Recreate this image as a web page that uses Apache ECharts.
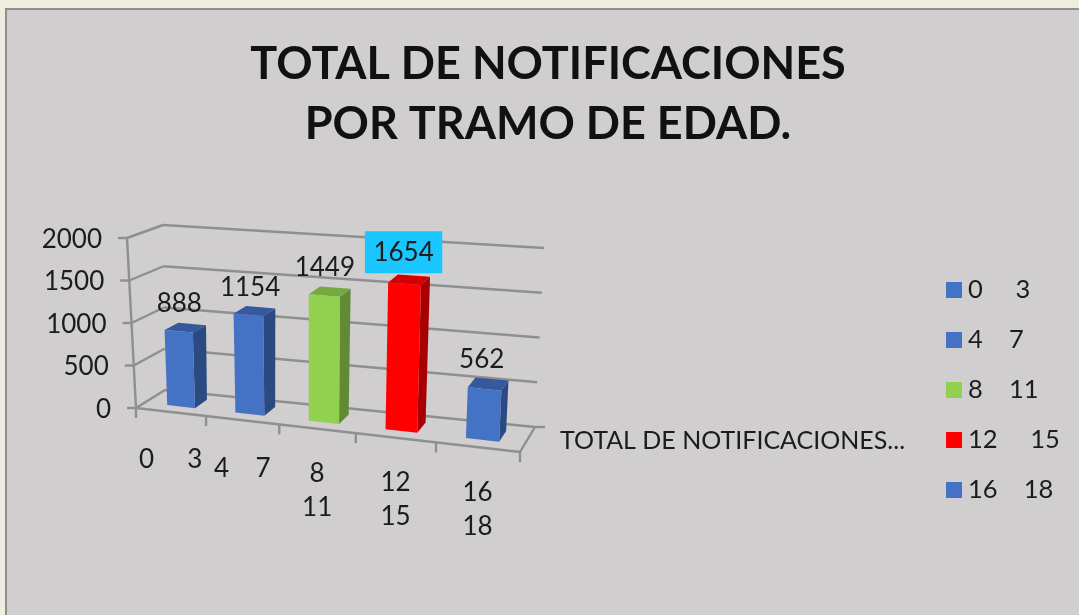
<!DOCTYPE html>
<html><head><meta charset="utf-8">
<style>html,body{margin:0;padding:0;background:#efede0;overflow:hidden}#c{width:1079px;height:615px;filter:blur(0.6px)}</style>
<script src="https://cdn.jsdelivr.net/npm/echarts@6/dist/echarts.min.js"></script>
</head><body><div id="c"></div>
<script>
const titleText = 'TOTAL DE NOTIFICACIONES\nPOR TRAMO DE EDAD.';
const categories = ['0     3', '4    7', '8\n11', '12\n15', '16\n18'];
const legendNames = ['0     3', '4    7', '8    11', '12     15', '16    18'];
const values = [888, 1154, 1449, 1654, 562];
const yTicks = [0, 500, 1000, 1500, 2000];
const seriesLabel = 'TOTAL DE NOTIFICACIONES...';
const faceColors = ['#4472c4', '#4472c4', '#92d050', '#ff0000', '#4472c4'];
const sideColors = ['#2b4a82', '#2b4a82', '#618a35', '#a80000', '#2b4a82'];
const topColors = ['#35599c', '#35599c', '#76a941', '#d20000', '#35599c'];
const highlighted = 3;

const FONT = 'Lato, Carlito, sans-serif';
const INK = '#1c1c1c', WALL = '#8f8f8f';
// corners of the projected plot box: [front, back] x [left, right] x [bottom, top]
const BOX = {
  fb: [[136, 408], [520, 452]], ft: [[127, 238], [529, 268]],
  bb: [[165, 390], [535, 427]], bt: [[163, 225], [544, 248]]
};
const R = 1.12, D1 = 0.3, D2 = 0.74, BAR = 0.4;
const mix = (a, b, k) => [a[0] + (b[0] - a[0]) * k, a[1] + (b[1] - a[1]) * k];

function projector(params, api) {
  const g = params.coordSys;
  return function (u, v, d) {
    const p = api.coord([u, v]);
    const s = (p[0] - g.x) / g.width, t = (g.y + g.height - p[1]) / g.height;
    const w = s / (s + R * (1 - s));
    const front = mix(mix(BOX.fb[0], BOX.fb[1], w), mix(BOX.ft[0], BOX.ft[1], w), t);
    const back = mix(mix(BOX.bb[0], BOX.bb[1], w), mix(BOX.bt[0], BOX.bt[1], w), t);
    return mix(front, back, d);
  };
}
const line = (a, b) => ({ type: 'line', shape: { x1: a[0], y1: a[1], x2: b[0], y2: b[1] }, style: { stroke: WALL, lineWidth: 2.4 } });
const poly = (pts, fill) => ({ type: 'polygon', shape: { points: pts }, style: { fill: fill } });
const text = (x, y, str, align, vAlign, extra) => ({ type: 'text', style: Object.assign({ x: x, y: y, text: str, align: align, verticalAlign: vAlign, fill: INK, font: '26px ' + FONT, lineHeight: 34 }, extra || {}) });

function renderFrame(params, api) {
  const P = projector(params, api), kids = [];
  yTicks.forEach(v => {
    const a = P(0, v, 0), b = P(0, v, 1), c = P(5, v, 1);
    kids.push(line(a, b), line(b, c), line(a, [a[0] - 9, a[1]]));
    kids.push(text(a[0] - 25, a[1] + 1.5, String(v), 'right', 'middle'));
  });
  kids.push(line(P(0, 0, 0), P(0, 2000, 0)));
  kids.push(line(P(0, 0, 0), P(5, 0, 0)));
  kids.push(line(P(5, 0, 0), P(5, 0, 1)));
  const corner = P(5, 0, 1);
  kids.push(line(corner, [corner[0] + 10, corner[1]]));
  kids.push(text(corner[0] + 25, corner[1] + 14, seriesLabel, 'left', 'middle', { font: '25px ' + FONT }));
  for (let i = 0; i <= 5; i++) {
    const a = P(i, 0, 0);
    kids.push(line(a, [a[0], a[1] + 10]));
  }
  categories.forEach((c, i) => {
    const a = P(i + 0.5, 0, 0);
    const two = c.indexOf('\n') >= 0;
    kids.push(text(a[0], a[1] + (two ? 28 : 31), c, 'center', 'top'));
  });
  return { type: 'group', children: kids };
}

function renderBar(i) {
  return function (params, api) {
    const P = projector(params, api), v = api.value(1);
    const u1 = i + 0.5 - BAR / 2 + (i === 0 ? 0.03 : 0), u2 = u1 + BAR;
    const tip = P(i + 0.5, v, 0.7);
    const hot = i === highlighted;
    const label = text(tip[0] - 9.5, tip[1] - (hot ? 24 : 20.5), String(values[i]), 'center', 'middle',
      hot ? { backgroundColor: '#1ac6ff', padding: [5, 8.5, 3, 8.5] } : {});
    return { type: 'group', children: [
      poly([P(u2, 0, D1), P(u2, 0, D2), P(u2, v, D2), P(u2, v, D1)], sideColors[i]),
      poly([P(u1, v, D1), P(u2, v, D1), P(u2, v, D2), P(u1, v, D2)], topColors[i]),
      poly([P(u1, 0, D1), P(u2, 0, D1), P(u2, v, D1), P(u1, v, D1)], faceColors[i]),
      label
    ] };
  };
}

const chart = echarts.init(document.getElementById('c'), null, { renderer: 'canvas' });
chart.setOption({
  animation: false,
  backgroundColor: 'transparent',
  graphic: [{ type: 'rect', z: -10, shape: { x: 6, y: 9, width: 1100, height: 640 }, style: { fill: '#d0cecf', stroke: '#8f8f8f', lineWidth: 2 } }],
  title: { text: titleText, left: 543, top: 29, textAlign: 'center', textStyle: { fontFamily: FONT, fontWeight: 'bold', fontSize: 45, lineHeight: 60, color: '#111' } },
  legend: {
    orient: 'vertical', left: 941, top: 270, itemWidth: 16, itemHeight: 16, itemGap: 20, icon: 'rect',
    selectedMode: false, data: legendNames,
    textStyle: { fontFamily: FONT, fontSize: 25.5, color: INK, padding: [0, 0, 0, 1], lineHeight: 30 }
  },
  grid: { left: 136, top: 238, width: 384, height: 170 },
  xAxis: { type: 'value', min: 0, max: 5, show: false },
  yAxis: { type: 'value', min: 0, max: 2000, interval: 500, show: false },
  series: [{ type: 'custom', name: 'frame', silent: true, z: 1, clip: false, renderItem: renderFrame, data: [[0, 0]] }]
    .concat(values.map((v, i) => ({
      type: 'custom', name: legendNames[i], silent: true, z: 2 + i, clip: false,
      itemStyle: { color: faceColors[i] }, renderItem: renderBar(i), data: [[i, v]]
    })))
});
</script></body></html>
